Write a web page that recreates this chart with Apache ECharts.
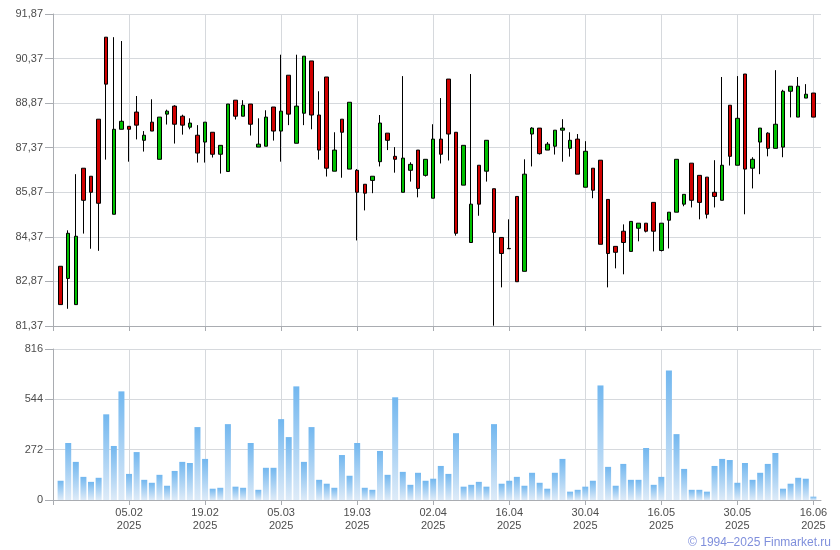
<!DOCTYPE html>
<html>
<head>
<meta charset="utf-8">
<script src="https://cdn.jsdelivr.net/npm/echarts@6/dist/echarts.min.js"></script>
<style>
html,body{margin:0;padding:0;background:#fff;}
#chart{width:840px;height:550px;}
</style>
</head>
<body>
<div id="chart"></div>
<script>
var dates = [
 "23.01.2025","24.01.2025","27.01.2025","28.01.2025","29.01.2025","30.01.2025","31.01.2025","03.02.2025","04.02.2025","05.02.2025",
 "06.02.2025","07.02.2025","10.02.2025","11.02.2025","12.02.2025","13.02.2025","14.02.2025","17.02.2025","18.02.2025","19.02.2025",
 "20.02.2025","21.02.2025","24.02.2025","25.02.2025","26.02.2025","27.02.2025","28.02.2025","03.03.2025","04.03.2025","05.03.2025",
 "06.03.2025","07.03.2025","10.03.2025","11.03.2025","12.03.2025","13.03.2025","14.03.2025","17.03.2025","18.03.2025","19.03.2025",
 "20.03.2025","21.03.2025","24.03.2025","25.03.2025","26.03.2025","27.03.2025","28.03.2025","31.03.2025","01.04.2025","02.04.2025",
 "03.04.2025","04.04.2025","07.04.2025","08.04.2025","09.04.2025","10.04.2025","11.04.2025","14.04.2025","15.04.2025","16.04.2025",
 "17.04.2025","18.04.2025","21.04.2025","22.04.2025","23.04.2025","24.04.2025","25.04.2025","28.04.2025","29.04.2025","30.04.2025",
 "02.05.2025","05.05.2025","06.05.2025","07.05.2025","08.05.2025","12.05.2025","13.05.2025","14.05.2025","15.05.2025","16.05.2025",
 "19.05.2025","20.05.2025","21.05.2025","22.05.2025","23.05.2025","26.05.2025","27.05.2025","28.05.2025","29.05.2025","30.05.2025",
 "02.06.2025","03.06.2025","04.06.2025","05.06.2025","06.06.2025","09.06.2025","10.06.2025","11.06.2025","13.06.2025","16.06.2025"
];
var opens = [
 83.38,82.97,82.09,86.68,86.41,88.33,91.09,85.13,87.99,88.09,
 88.57,87.62,88.23,86.98,88.50,88.77,88.43,88.06,87.79,87.56,
 87.89,87.15,86.57,88.97,88.43,88.84,87.39,87.42,88.74,87.93,
 89.81,87.52,88.53,90.29,88.47,89.75,86.58,88.33,86.65,86.61,
 86.14,86.27,86.90,87.86,87.08,85.87,86.61,87.29,86.44,85.67,
 87.66,89.68,87.89,86.11,84.18,86.78,86.58,85.99,84.35,83.98,
 85.73,83.21,87.83,88.03,87.29,87.42,87.96,87.35,87.66,86.04,
 86.68,86.95,85.63,84.05,84.56,83.88,84.66,84.83,85.53,83.91,
 84.93,85.20,85.47,86.85,86.44,86.38,85.87,85.60,88.80,86.78,
 89.85,86.68,87.56,87.86,87.35,87.39,89.27,88.40,89.04,89.21
];
var closes = [
 82.09,84.49,84.39,85.60,85.87,85.50,89.51,87.99,88.26,87.99,
 88.13,87.79,87.93,88.40,88.60,88.16,88.13,88.20,87.19,88.23,
 87.15,87.45,88.84,88.43,88.80,88.16,87.49,88.40,87.93,88.60,
 88.50,88.77,90.45,88.47,87.29,86.68,87.29,87.89,88.90,85.87,
 85.84,86.41,88.20,87.62,86.98,87.02,86.81,86.00,86.98,87.66,
 87.15,87.83,84.49,87.45,85.47,85.47,87.62,84.52,83.81,83.97,
 82.86,86.48,88.03,87.17,87.49,87.96,88.03,87.62,86.48,87.25,
 85.94,84.12,83.81,83.85,84.18,84.89,84.83,84.56,84.56,84.83,
 85.20,86.98,85.80,85.60,85.53,85.13,85.73,86.78,87.08,88.36,
 86.65,86.98,88.03,87.35,88.16,89.27,89.44,89.44,89.17,88.40
];
var lows = [
 82.09,81.95,82.09,84.48,83.97,83.90,86.97,85.13,87.99,86.90,
 87.65,87.24,87.93,86.98,88.15,87.51,87.81,87.99,86.87,86.87,
 87.04,86.50,86.57,88.32,88.43,87.78,87.39,87.42,87.61,86.90,
 88.13,87.52,88.13,87.99,86.97,86.40,86.58,86.36,86.65,84.25,
 85.26,85.84,86.74,87.29,86.53,85.87,86.23,85.70,86.40,85.67,
 86.84,86.94,84.41,86.11,84.18,85.08,86.23,81.38,82.67,83.97,
 82.86,83.21,86.74,87.14,87.29,87.14,86.90,87.07,86.48,86.04,
 85.67,84.12,82.67,83.31,83.11,83.88,84.22,84.52,83.88,83.88,
 83.98,85.20,85.40,85.36,84.96,84.99,85.36,85.60,86.77,86.78,
 85.13,86.00,86.48,87.08,87.35,87.05,88.39,88.40,89.04,88.40
];
var highs = [
 83.38,84.59,86.48,86.68,86.41,88.33,91.09,91.09,90.96,88.09,
 89.11,87.93,89.00,88.40,88.65,88.80,88.48,88.36,88.13,88.23,
 87.89,87.45,88.84,88.97,88.97,88.84,88.36,88.63,88.74,90.50,
 89.81,90.50,90.45,90.29,89.27,89.75,87.89,88.33,88.90,86.65,
 86.14,86.41,88.47,87.86,87.39,89.78,86.88,87.29,86.98,88.16,
 89.04,89.68,87.89,87.45,89.85,86.78,87.62,85.99,84.35,84.96,
 85.73,86.98,88.06,88.03,87.56,87.96,88.33,87.89,87.83,87.59,
 86.68,86.95,85.63,84.05,84.79,84.89,84.83,84.83,85.53,84.83,
 85.20,86.98,85.80,86.85,86.44,86.38,86.95,89.75,88.80,89.78,
 89.85,87.05,88.03,87.89,89.98,89.32,89.44,89.75,89.51,89.21
];
var volumes = [
 104,308,206,125,98,120,463,292,587,141,
 259,109,93,136,77,157,206,200,394,222,
 61,66,410,72,66,308,55,174,174,437,
 340,614,206,394,109,88,66,243,131,308,
 66,55,265,136,555,152,82,147,104,115,
 184,141,361,72,82,98,72,410,88,104,
 125,77,147,93,61,147,222,45,55,72,
 104,619,179,77,195,109,109,281,82,125,
 700,356,168,55,55,45,184,222,216,93,
 200,109,147,195,254,61,88,120,115,18
];
var priceTicks = { min: 81.37, max: 91.87, step: 1.5 };
var volumeTicks = { min: 0, max: 816, step: 272 };

// build padded category axis (one empty slot each side)
var base = priceTicks.min;
var cats = [''].concat(dates).concat(['']);
var candleData = ['-'];
for (var i = 0; i < dates.length; i++) {
  candleData.push([opens[i] - base, closes[i] - base, lows[i] - base, highs[i] - base]);
}
candleData.push('-');
var volData = ['-'].concat(volumes).concat(['-']);

var gridColor = '#d6d9dd';
var axisColor = '#a9acb1';
var labelColor = '#4d4d4d';
var fontFam = '"Liberation Sans", Arial, sans-serif';

var chart = echarts.init(document.getElementById('chart'), null, {renderer: 'canvas'});
chart.setOption({
  animation: false,
  backgroundColor: '#ffffff',
  grid: [
    {left: 53, right: 19, top: 14, height: 312},
    {left: 53, right: 19, top: 349, height: 151}
  ],
  xAxis: [
    {
      type: 'category', gridIndex: 0, data: cats, boundaryGap: false,
      axisLine: {show: true, lineStyle: {color: axisColor}},
      axisTick: {show: true, interval: 9, length: 5, lineStyle: {color: axisColor}},
      axisLabel: {show: false, interval: 9},
      splitLine: {show: true, interval: 9, lineStyle: {color: gridColor}}
    },
    {
      type: 'category', gridIndex: 1, data: cats, boundaryGap: false,
      axisLine: {show: true, lineStyle: {color: axisColor}},
      axisTick: {show: true, interval: 9, length: 5, lineStyle: {color: axisColor}},
      axisLabel: {
        show: true, interval: 9, color: labelColor, fontSize: 11, fontFamily: fontFam,
        lineHeight: 13, margin: 6,
        formatter: function (v) {
          if (!v) return '';
          var p = v.split('.');
          return p[0] + '.' + p[1] + '\n' + p[2];
        }
      },
      splitLine: {show: true, interval: 9, lineStyle: {color: gridColor}}
    }
  ],
  yAxis: [
    {
      type: 'value', gridIndex: 0, min: 0, max: priceTicks.max - base, interval: priceTicks.step,
      axisLine: {show: true, lineStyle: {color: axisColor}},
      axisTick: {show: true, length: 8, lineStyle: {color: axisColor}},
      axisLabel: {
        color: labelColor, fontSize: 11, fontFamily: fontFam, margin: 10,
        formatter: function (v) { return (v + base).toFixed(2).replace('.', ','); }
      },
      splitLine: {show: true, lineStyle: {color: gridColor}}
    },
    {
      type: 'value', gridIndex: 1, min: volumeTicks.min, max: volumeTicks.max, interval: volumeTicks.step,
      axisLine: {show: true, lineStyle: {color: axisColor}},
      axisTick: {show: true, length: 8, lineStyle: {color: axisColor}},
      axisLabel: {color: labelColor, fontSize: 11, fontFamily: fontFam, margin: 10},
      splitLine: {show: true, lineStyle: {color: gridColor}}
    }
  ],
  series: [
    {
      type: 'candlestick', xAxisIndex: 0, yAxisIndex: 0, data: candleData,
      barWidth: 4,
      itemStyle: {
        color: '#00c000', color0: '#d00000',
        borderColor: '#000000', borderColor0: '#000000', borderColorDoji: '#000000',
        borderWidth: 1
      }
    },
    {
      type: 'bar', xAxisIndex: 1, yAxisIndex: 1, data: volData,
      barWidth: 6,
      itemStyle: {
        color: new echarts.graphic.LinearGradient(0, 0, 0, 1, [
          {offset: 0, color: '#72b7ef'},
          {offset: 1, color: '#deebf8'}
        ])
      }
    }
  ],
  graphic: [
    {
      type: 'text', right: 9, top: 537,
      style: {text: '© 1994–2025 Finmarket.ru', fill: '#7f8fdc', font: '12px "Liberation Sans", Arial, sans-serif'}
    }
  ]
});
</script>
</body>
</html>
